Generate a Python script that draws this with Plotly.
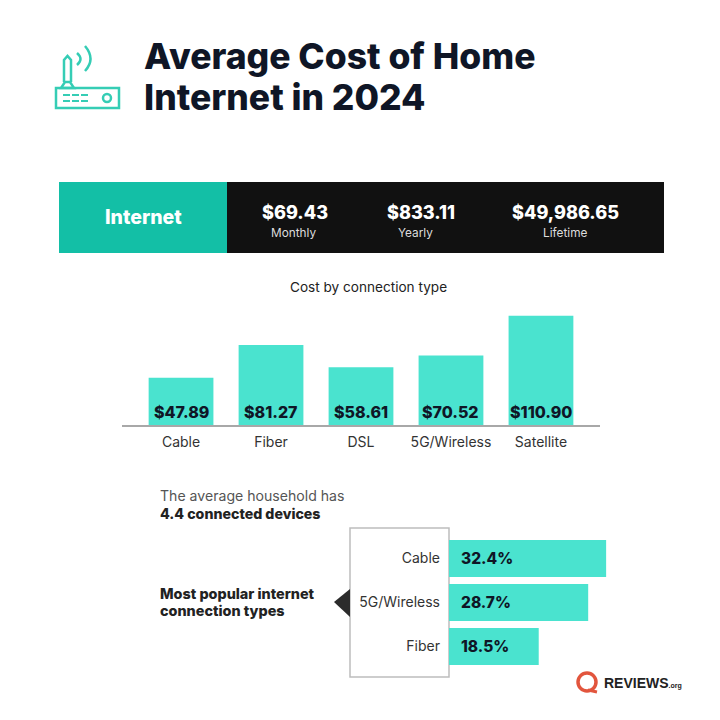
import plotly.graph_objects as go

# values
types = ['Cable', 'Fiber', 'DSL', '5G/Wireless', 'Satellite']
costs = [47.89, 81.27, 58.61, 70.52, 110.90]
popular = ['Cable', '5G/Wireless', 'Fiber']
shares = [32.4, 28.7, 18.5]
stat_values = ['$69.43', '$833.11', '$49,986.65']
stat_labels = ['Monthly', 'Yearly', 'Lifetime']

TEAL = '#4ae3cf'
DARK_TEAL = '#13bfa6'
ICON = '#35cdb5'
INK = '#0f1626'
FONT = 'Inter'


def px(x):
    return x / 720


def py(y):
    return 1 - y / 720


def to_path(points, close=False):
    d = 'M' + ' L'.join(f'{px(x)},{py(y)}' for x, y in points)
    return d + (' Z' if close else '')


def curve(x0, y0, cx, cy, x1, y1):
    return f'M{px(x0)},{py(y0)} Q{px(cx)},{py(cy)} {px(x1)},{py(y1)}'


def text(x, y, s, size, color='#222222', weight=400, anchor='center', family=FONT):
    fig.add_annotation(xref='paper', yref='paper', x=px(x), y=py(y), text=s, showarrow=False,
                       xanchor=anchor, yanchor='middle', borderpad=0,
                       font=dict(family=family, size=size, color=color, weight=weight))


def box(x0, y0, x1, y1, fill, line=None):
    fig.add_shape(type='rect', xref='paper', yref='paper', x0=px(x0), x1=px(x1), y0=py(y0), y1=py(y1),
                  fillcolor=fill, line=dict(color=line or fill, width=1.5 if line else 0), layer='below')


def stroke(path, color=ICON, width=2.5):
    fig.add_shape(type='path', xref='paper', yref='paper', path=path, line=dict(color=color, width=width))


fig = go.Figure()

# cost by connection type
fig.add_trace(go.Bar(x=types, y=costs, marker=dict(color=TEAL, line_width=0), width=0.72,
                     xaxis='x', yaxis='y', hoverinfo='skip'))
# most popular types
fig.add_trace(go.Bar(x=shares, y=popular, orientation='h', marker=dict(color=TEAL, line_width=0), width=0.84,
                     xaxis='x2', yaxis='y2', hoverinfo='skip'))

fig.update_layout(
    width=720, height=720, margin=dict(l=0, r=0, t=0, b=0),
    paper_bgcolor='white', plot_bgcolor='rgba(0,0,0,0)', showlegend=False,
    xaxis=dict(domain=[px(122), px(600)], type='category', range=[-0.656, 4.656], showline=True,
               linecolor='#a8a8a8', linewidth=2, showgrid=False, ticks='', ticklabelstandoff=3,
               tickfont=dict(family=FONT, size=14, color='#333333')),
    yaxis=dict(domain=[py(425), py(305)], range=[0, 121.8], visible=False),
    xaxis2=dict(domain=[px(449), px(620)], range=[0, 35.26], visible=False, anchor='y2'),
    yaxis2=dict(domain=[py(677), py(528)], type='category', range=[2.693, -0.693], anchor='x2', showline=False,
                showgrid=False, ticks='', ticklabelstandoff=8,
                tickfont=dict(family=FONT, size=14, color='#333333')),
)

# value labels on the bars
for t, c in zip(types, costs):
    fig.add_annotation(xref='x', yref='y', x=t, y=0, yshift=13, text=f'${c:.2f}', showarrow=False,
                       yanchor='middle', font=dict(family=FONT, size=16, color=INK, weight=800))
for p, s in zip(popular, shares):
    fig.add_annotation(xref='x2', yref='y2', x=0, y=p, xshift=10, text=f'{s}%', showarrow=False,
                       xanchor='left', font=dict(family=FONT, size=15.5, color=INK, weight=800))

# title
text(142.5, 57, 'Average Cost of Home', 35.5, INK, 800, 'left')
text(142.5, 98, 'Internet in 2024', 35.5, INK, 800, 'left')

# router icon
fig.add_shape(type='rect', xref='paper', yref='paper', x0=px(56), x1=px(119), y0=py(88), y1=py(108),
              line=dict(color=ICON, width=2.5))
stroke(to_path([(64, 82), (64, 60), (67.5, 56), (71, 60), (71, 82)]))
stroke(to_path([(65, 82), (70, 82), (74, 88), (61, 88)], close=True))
for row in [95, 101]:
    for start in [63, 72, 81]:
        stroke(to_path([(start, row), (start + 7, row)]), width=2)
fig.add_shape(type='circle', xref='paper', yref='paper', x0=px(103), x1=px(111), y0=py(102), y1=py(94),
              line=dict(color=ICON, width=2.5))
stroke(curve(77, 53, 84, 59, 77, 65))
stroke(curve(85, 46, 96, 59, 85, 71))

# header band
box(59, 182, 227, 253, DARK_TEAL)
box(227, 182, 664, 253, '#111111')
text(143, 217, 'Internet', 19.5, 'white', 800)
for cx, lx, v, lab in zip([295, 421, 565], [293, 416, 565], stat_values, stat_labels):
    text(cx, 212, v, 18.1, 'white', 800)
    text(lx, 233, lab, 11.8, '#dddddd')

text(368, 287, 'Cost by connection type', 13.6, '#222222')

# lower block
text(159, 496, 'The average household has', 14.1, '#555555', 400, 'left')
text(159, 513, '4.4 connected devices', 14.2, '#222222', 800, 'left')
text(159, 593, 'Most popular internet', 14.4, '#222222', 800, 'left')
text(159, 610, 'connection types', 14.4, '#222222', 800, 'left')
box(350, 528, 449, 677, 'white', '#bdbdbd')
fig.add_shape(type='path', xref='paper', yref='paper', path=to_path([(334, 602), (350, 589), (350, 617)], close=True),
              fillcolor='#2b2b2b', line_width=0)

# logo
fig.add_shape(type='circle', xref='paper', yref='paper', x0=px(578), x1=px(596), y0=py(691), y1=py(673),
              line=dict(color='#e2553d', width=3.5))
stroke(to_path([(588, 690), (597, 692)]), '#e2553d', 3)
text(603, 683, 'REVIEWS<span style="font-size:7px">.org</span>', 14, '#222222', 800, 'left', 'Liberation Sans')

# the page's default body margin would push the chart 8px off
fig.write_html('out.html', config=dict(displayModeBar=False), post_script="document.body.style.margin='0';")
